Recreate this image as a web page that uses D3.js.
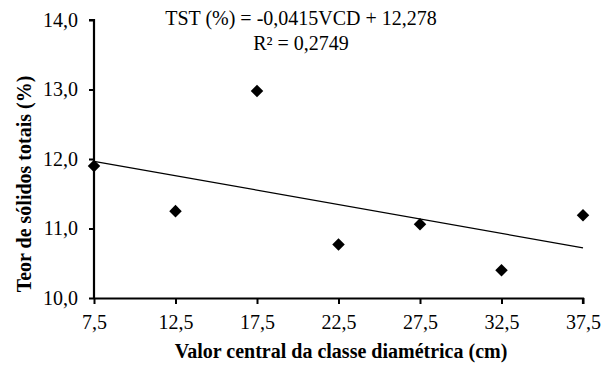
<!DOCTYPE html>
<html>
<head>
<meta charset="utf-8">
<script src="https://cdn.jsdelivr.net/npm/d3@7"></script>
<style>
  body { margin: 0; background: #fff; }
</style>
</head>
<body>
<script>
"use strict";
// chart values
const classes = [7.5, 12.5, 17.5, 22.5, 27.5, 32.5, 37.5];
const solids = [11.9, 11.25, 12.98, 10.77, 11.06, 10.40, 11.19];
const xTicks = [7.5, 12.5, 17.5, 22.5, 27.5, 32.5, 37.5];
const yTicks = [10, 11, 12, 13, 14];
const slope = -0.0415;
const intercept = 12.278;
const equation = ["TST (%) = -0,0415VCD + 12,278", "R² = 0,2749"];

const W = 608, H = 365;
const margin = { left: 94, right: 25, top: 20, bottom: 67 };
const serif = "'Liberation Serif', 'Times New Roman', 'DejaVu Serif', serif";

const svg = d3.select("body").append("svg")
  .attr("width", W)
  .attr("height", H)
  .attr("font-family", serif);

const x = d3.scaleLinear().domain([7.5, 37.5]).range([margin.left, W - margin.right]);
const y = d3.scaleLinear().domain([10, 14]).range([H - margin.bottom, margin.top]);

const comma = d => d3.format(".1f")(d).replace(".", ",");

// axes
const xAxis = svg.append("g")
  .attr("transform", `translate(0,${y(10)})`)
  .call(d3.axisBottom(x).tickValues(xTicks).tickSize(6).tickPadding(11).tickFormat(comma));
const yAxis = svg.append("g")
  .attr("transform", `translate(${x(7.5)},0)`)
  .call(d3.axisLeft(y).tickValues(yTicks).tickSize(5).tickPadding(11).tickFormat(comma));

[xAxis, yAxis].forEach(a => {
  a.attr("font-family", serif).attr("font-size", 20);
  a.select(".domain").attr("stroke", "#000").attr("stroke-width", 2.2);
  a.selectAll(".tick line").attr("stroke", "#000").attr("stroke-width", 2);
  a.selectAll(".tick text").attr("fill", "#000");
});
xAxis.select(".domain").attr("d", `M${x(7.5)},0.5H${x(37.5)}V6`);
yAxis.select(".domain").attr("d", `M-5,${y(14)}H0V${y(10)}`);

// trend line
svg.append("path")
  .datum([7.5, 37.5])
  .attr("fill", "none")
  .attr("stroke", "#000")
  .attr("stroke-width", 1.2)
  .attr("d", d3.line().x(d => x(d)).y(d => y(intercept + slope * d)));

// points
svg.selectAll(".point")
  .data(classes)
  .enter()
  .append("path")
    .attr("class", "point")
    .attr("d", d3.symbol().type(d3.symbolDiamond2).size(100))
    .attr("transform", (d, i) => `translate(${x(d)},${y(solids[i])})`)
    .attr("fill", "#000");

// equation
svg.selectAll(".eq")
  .data(equation)
  .enter()
  .append("text")
    .attr("x", 301)
    .attr("y", (d, i) => 25 + i * 25)
    .attr("text-anchor", "middle")
    .attr("font-size", 20)
    .text(d => d);

// axis titles
svg.append("text")
  .attr("x", 341)
  .attr("y", 358)
  .attr("text-anchor", "middle")
  .attr("font-size", 20)
  .attr("font-weight", "bold")
  .text("Valor central da classe diamétrica (cm)");

svg.append("text")
  .attr("transform", "translate(31,184) rotate(-90)")
  .attr("text-anchor", "middle")
  .attr("font-size", 20)
  .attr("font-weight", "bold")
  .text("Teor de sólidos totais (%)");
</script>
</body>
</html>
